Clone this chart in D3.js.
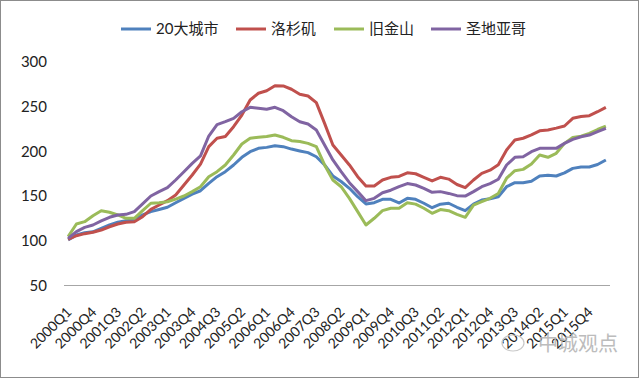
<!DOCTYPE html>
<html><head><meta charset="utf-8">
<script src="https://cdn.jsdelivr.net/npm/d3@7"></script>
<style>
body{margin:0;background:#fff;}
svg{display:block;}
</style></head>
<body>
<svg id="c" width="640" height="379"></svg>
<script>
const categories = [
"2000Q1","2000Q2","2000Q3","2000Q4","2001Q1","2001Q2","2001Q3","2001Q4",
"2002Q1","2002Q2","2002Q3","2002Q4","2003Q1","2003Q2","2003Q3","2003Q4",
"2004Q1","2004Q2","2004Q3","2004Q4","2005Q1","2005Q2","2005Q3","2005Q4",
"2006Q1","2006Q2","2006Q3","2006Q4","2007Q1","2007Q2","2007Q3","2007Q4",
"2008Q1","2008Q2","2008Q3","2008Q4","2009Q1","2009Q2","2009Q3","2009Q4",
"2010Q1","2010Q2","2010Q3","2010Q4","2011Q1","2011Q2","2011Q3","2011Q4",
"2012Q1","2012Q2","2012Q3","2012Q4","2013Q1","2013Q2","2013Q3","2013Q4",
"2014Q1","2014Q2","2014Q3","2014Q4","2015Q1","2015Q2","2015Q3","2015Q4",
"2016Q1","2016Q2"];
const tickLabels = ["2000Q1","2000Q4","2001Q3","2002Q2","2003Q1","2003Q4","2004Q3","2005Q2",
"2006Q1","2006Q4","2007Q3","2008Q2","2009Q1","2009Q4","2010Q3","2011Q2","2012Q1","2012Q4",
"2013Q3","2014Q2","2015Q1","2015Q4"];
const yTicks = [50,100,150,200,250,300];
const seriesNames = ["20大城市","洛杉矶","旧金山","圣地亚哥"];
const composite20 = [101,106.5,109,110,114,117.7,120.7,122.5,123.3,129,132.6,135,137.5,142.6,147.5,152.3,
156,164.3,171.7,177.3,184.8,193.4,199.7,203.4,204.5,206.4,205.3,202.6,200.5,198.6,194,184.8,
172.5,166.3,158.7,149.3,141.2,142.6,146.4,146.4,142.3,147.5,146.4,142,137,141,142,137.5,
133.7,141,145.6,147,149.3,160.5,165,165,166.7,172.5,173.3,172.5,176,181,182.6,182.6,185.3,190.4];
const losAngeles = [101.7,105.7,108,109.5,112,115.7,118.8,120.7,121.4,127,135.2,140,144.9,151.2,162.4,173.6,
185.7,205.3,214.7,216.6,227.6,240.7,257.5,265,267.9,273.5,273.2,269.5,263.9,262,254.5,231.4,
207.2,196,184.8,171.7,161.3,161.3,168,171,172,176,175,171,167,171,169,163,
159.4,168,175.5,179,185,201.6,212.8,214.7,218.4,223,224,226,228.4,237,239,240,244.4,249.3];
const sanFrancisco = [104.6,118.8,121.4,128.1,133.7,131.9,128.9,125.2,125.2,133.7,142,142.6,143.7,146.6,150.1,155,
160.5,171.7,177.3,184.8,196,208.3,214.7,215.8,216.6,218.3,215.8,212,211,209,205.3,184.8,
168,160.5,147.5,132.6,117.7,125.2,133.7,136.4,136.4,142.6,141,136.4,130.8,135,133.7,129.6,
126.3,140,143.7,147.5,153,170,178.4,179.9,185.9,196,193.4,197.9,209,215.7,217,220.2,224.5,228.4];
const sanDiego = [102.8,110.2,115,117.7,122.2,126.3,128.9,129.6,132.6,141.2,150.1,155,159.4,168,177.3,186.6,
195,217.2,230,233.3,237,244.4,249.3,248.2,247.1,249.3,245.5,238.8,233.2,230.6,224,207.2,
190.4,177.3,165,155,144.9,147.5,153.8,156.6,160.5,164,162.4,158.7,154.2,155,153,150.5,
150,155,160.5,164,168.8,184.8,193.4,194,199.7,203.4,203.4,203.4,209,213.5,216.4,218.3,222,225.8];
const colors = ["#4F81BD","#C0504D","#9BBB59","#8064A2"];

const svg = d3.select("#c");
const font = "Lato, 'Open Sans', 'Noto Sans CJK SC', sans-serif";
svg.append("rect").attr("x",0.5).attr("y",0.5).attr("width",638).attr("height",377)
  .attr("fill","#fff").attr("stroke","#8c8c8c").attr("stroke-width",1);

const x = d3.scaleBand().domain(categories).range([64,610]);
const xc = c => x(c) + x.bandwidth()/2;
const y = d3.scaleLinear().domain([50,300]).range([285.5,62]);

const yAxis = d3.axisLeft(y).tickValues(yTicks).tickSize(0).tickPadding(0);
const gy = svg.append("g").attr("transform","translate(47,0)").call(yAxis);
gy.select(".domain").remove();
gy.selectAll("text").attr("font-family",font).attr("font-size",15).attr("fill","#222");

const xAxis = d3.axisBottom(x).tickValues(tickLabels).tickSize(0).tickPadding(0);
const gx = svg.append("g").attr("transform","translate(0,285.5)").call(xAxis);
gx.select(".domain").attr("stroke","#a6a6a6").attr("stroke-width",1.2).attr("d","M64,0H610");
gx.selectAll(".tick text")
  .attr("font-family",font).attr("font-size",14).attr("fill","#222")
  .attr("text-anchor","end").attr("dy","0.35em").attr("y",0)
  .attr("transform","translate(1,24) rotate(-45)");

const allSeries = [composite20, losAngeles, sanFrancisco, sanDiego];
const line = d3.line().x((d,i)=>xc(categories[i])).y(d=>y(d));
allSeries.forEach((s,k)=>{
  svg.append("path").datum(s).attr("d",line).attr("fill","none")
    .attr("stroke",colors[k]).attr("stroke-width",3).attr("stroke-linejoin","round");
});

const legX = [121,236,334,431];
const lg = svg.append("g");
seriesNames.forEach((n,k)=>{
  lg.append("line").attr("x1",legX[k]).attr("x2",legX[k]+30).attr("y1",29).attr("y2",29)
    .attr("stroke",colors[k]).attr("stroke-width",3);
  lg.append("text").attr("x",legX[k]+35).attr("y",29).attr("dy","0.35em")
    .attr("font-family",font).attr("font-size",15).attr("fill","#222").text(n);
});

// watermark
svg.append("ellipse").attr("cx",513).attr("cy",343).attr("rx",11).attr("ry",8)
  .attr("fill","none").attr("stroke","#c8c8c8").attr("stroke-width",1.2);
svg.append("text").attr("x",618).attr("y",351).attr("text-anchor","end")
  .attr("font-family","'Noto Sans CJK SC', sans-serif").attr("font-size",20)
  .attr("fill","#b5b5b5").attr("opacity",0.9).text("中城观点");
</script>
</body></html>
